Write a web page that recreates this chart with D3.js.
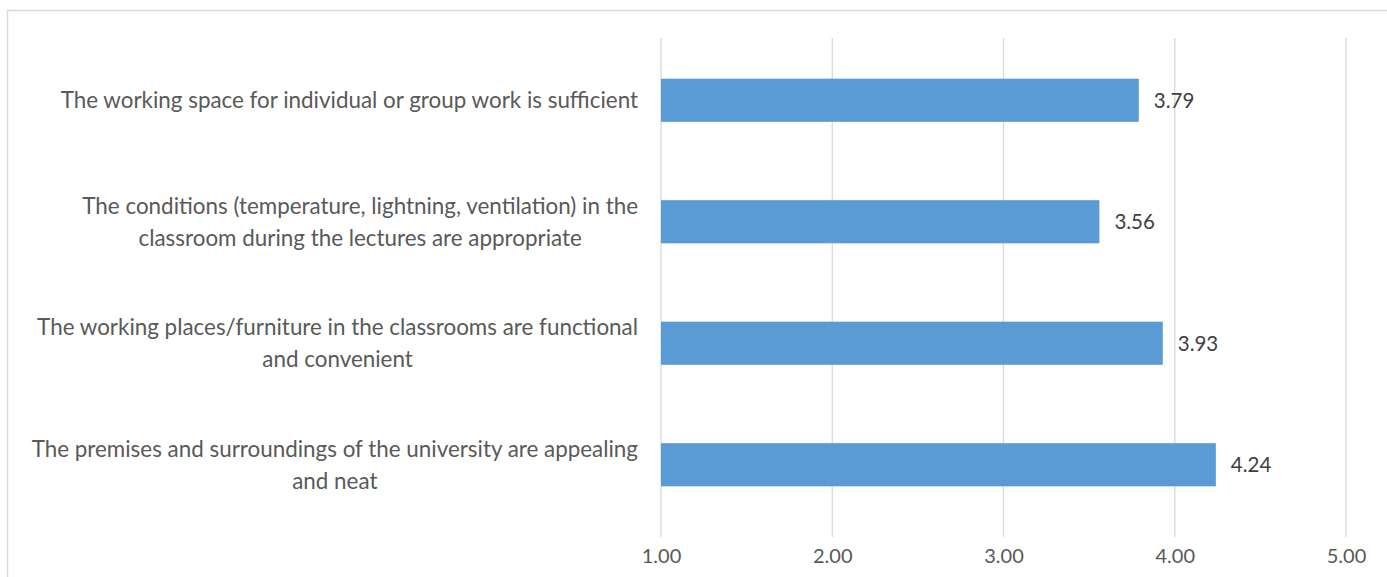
<!DOCTYPE html>
<html>
<head>
<meta charset="utf-8">
<title>Classroom conditions</title>
<script src="https://cdn.jsdelivr.net/npm/d3@7/dist/d3.min.js"></script>
<style>
body { margin: 0; background: #fff; }
text { font-family: Lato, "Open Sans", sans-serif; }
</style>
</head>
<body>
<script>
// categories, top to bottom (line breaks as in the picture)
var categories = [
  "The working space for individual or group work is sufficient",
  "The conditions (temperature, lightning, ventilation) in the\nclassroom during the lectures are appropriate",
  "The working places/furniture in the classrooms are functional\nand convenient",
  "The premises and surroundings of the university are appealing\nand neat"
];
var values = [3.79, 3.56, 3.93, 4.24];
var tickValues = [1, 2, 3, 4, 5];

var w = 1387, h = 577;
var svg = d3.select("body").append("svg")
  .attr("width", w).attr("height", h);

// chart border
svg.append("rect")
  .attr("x", 7.5).attr("y", 10.5)
  .attr("width", 1400).attr("height", 600)
  .attr("fill", "none")
  .attr("stroke", "#d9d9d9")
  .attr("stroke-width", 1.5);

var x = d3.scaleLinear().domain([1, 5]).range([661, 1346]);
var y = d3.scaleBand().domain(d3.range(categories.length))
  .range([39.5, 525.5]).paddingInner(0.645).paddingOuter(0.3225);

// gridlines
svg.selectAll(".grid").data(tickValues).enter().append("line")
  .attr("class", "grid")
  .attr("x1", function(d){ return x(d); })
  .attr("x2", function(d){ return x(d); })
  .attr("y1", 38).attr("y2", 537)
  .attr("stroke", "#d9d9d9").attr("stroke-width", 1.3);

// x axis labels
var xAxis = d3.axisBottom(x).tickValues(tickValues)
  .tickFormat(d3.format(".2f")).tickSize(0).tickPadding(0);
var gx = svg.append("g").attr("transform", "translate(0,548.5)").call(xAxis);
gx.select(".domain").remove();
gx.selectAll("text")
  .attr("font-size", 20).attr("fill", "#595959")
  .style("font-family", "Lato, 'Open Sans', sans-serif");

// bars
svg.selectAll(".bar").data(values).enter().append("rect")
  .attr("class", "bar")
  .attr("x", x(1))
  .attr("y", function(d, i){ return y(i); })
  .attr("width", function(d){ return x(d) - x(1); })
  .attr("height", y.bandwidth())
  .attr("fill", "#5b9bd5");

// value labels
svg.selectAll(".val").data(values).enter().append("text")
  .attr("class", "val")
  .attr("x", function(d){ return x(d) + 15; })
  .attr("y", function(d, i){ return y(i) + y.bandwidth() / 2; })
  .attr("dy", "0.36em")
  .attr("font-size", 20.5)
  .attr("fill", "#404040")
  .text(function(d){ return d3.format(".2f")(d); });

// category labels: lines centred inside a block that ends at the axis
var lineH = 32, rightEdge = 638;
categories.forEach(function(c, i){
  var lines = c.split("\n");
  var g = svg.append("g");
  var cy = y(i) + y.bandwidth() / 2;
  var texts = lines.map(function(l, k){
    return g.append("text")
      .attr("y", cy + (k - (lines.length - 1) / 2) * lineH)
      .attr("dy", "0.35em")
      .attr("font-size", 22.4)
      .attr("fill", "#595959")
      .attr("text-anchor", "middle")
      .text(l);
  });
  var maxW = d3.max(texts, function(t){ return t.node().getComputedTextLength(); });
  texts.forEach(function(t){ t.attr("x", rightEdge - maxW / 2); });
});
</script>
</body>
</html>
